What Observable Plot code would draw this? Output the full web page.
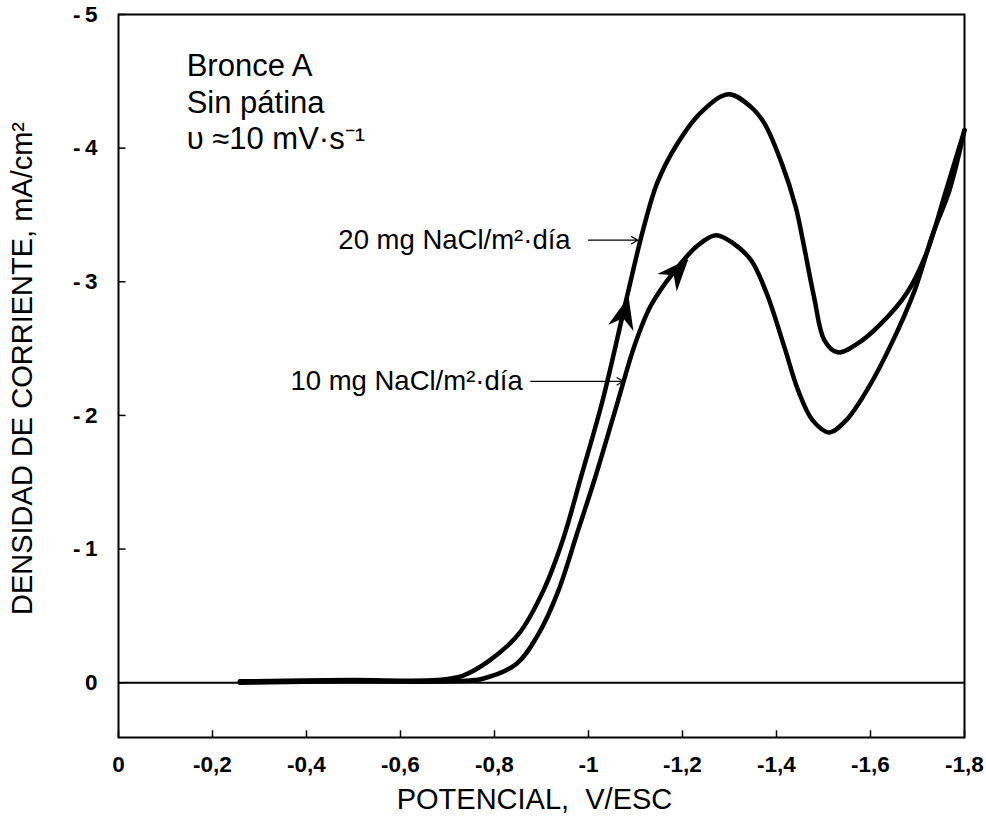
<!DOCTYPE html>
<html>
<head>
<meta charset="utf-8">
<script src="https://cdn.jsdelivr.net/npm/d3@7"></script>
<script src="https://cdn.jsdelivr.net/npm/@observablehq/plot@0.6"></script>
<style>
  html, body { margin: 0; padding: 0; background: #fff; }
  #chart svg { display: block; }
</style>
</head>
<body>
<div id="chart"></div>
<script>
// ---- data ----
const xTicks = [0, -0.2, -0.4, -0.6, -0.8, -1, -1.2, -1.4, -1.6, -1.8];
const yTicks = [-5, -4, -3, -2, -1, 0];

const potential20 = [-0.258,-0.492,-0.677,-0.732,-0.789,-0.852,-0.904,-0.945,-0.985,-1.030,-1.080,-1.116,-1.146,-1.187,-1.240,-1.298,-1.346,-1.374,-1.411,-1.441,-1.456,-1.480,-1.502,-1.530,-1.573,-1.623,-1.677,-1.719,-1.759,-1.800];
const current20   = [-0.01,-0.02,-0.02,-0.052,-0.165,-0.367,-0.689,-1.064,-1.551,-2.112,-2.861,-3.386,-3.738,-4.022,-4.270,-4.404,-4.307,-4.187,-3.888,-3.558,-3.311,-2.884,-2.562,-2.472,-2.539,-2.689,-2.914,-3.213,-3.663,-4.135];

const potential10 = [-0.258,-0.492,-0.704,-0.775,-0.847,-0.894,-0.936,-0.976,-1.015,-1.062,-1.098,-1.133,-1.181,-1.233,-1.271,-1.308,-1.346,-1.379,-1.417,-1.446,-1.477,-1.512,-1.548,-1.596,-1.645,-1.694,-1.733,-1.768,-1.800];
const current10   = [0,-0.01,-0.01,-0.03,-0.142,-0.367,-0.689,-1.120,-1.545,-2.100,-2.524,-2.824,-3.071,-3.273,-3.348,-3.288,-3.161,-2.914,-2.509,-2.187,-1.963,-1.873,-1.963,-2.210,-2.539,-2.936,-3.363,-3.685,-4.135];

// direction arrowheads on the curves
const arrowX = [-1.076, -1.187];
const arrowY = [-2.757, -3.071];
const arrowAngle = [14, 42];

// series labels and leader lines
const seriesLabels = ["20 mg NaCl/m²·día", "10 mg NaCl/m²·día"];
const labelX = [-0.962, -0.860];
const labelY = [-3.311, -2.255];
const leaderX1 = [-1.0, -0.877];
const leaderX2 = [-1.105, -1.074];

// annotation block
const noteLines = "Bronce A\nSin pátina\nυ ≈10 mV·s⁻¹";
const noteX = [-0.145];
const noteY = [-4.734];

const xLabel = "POTENCIAL,  V/ESC";
const yLabel = "DENSIDAD DE CORRIENTE, mA/cm²";

// ---- build tables ----
const s20 = potential20.map((x, i) => ({x, y: current20[i]}));
const s10 = potential10.map((x, i) => ({x, y: current10[i]}));
const labels = seriesLabels.map((t, i) => ({t, x: labelX[i], y: labelY[i], x1: leaderX1[i], x2: leaderX2[i]}));

function arrowSymbol(angleDeg) {
  const a = angleDeg * Math.PI / 180, c = Math.cos(a), s = Math.sin(a);
  const pts = [[0, -18], [13, 14], [0, 4], [-13, 14]];
  return {
    draw(ctx) {
      pts.forEach(([px, py], i) => {
        const rx = px * c - py * s, ry = px * s + py * c;
        if (i === 0) ctx.moveTo(rx, ry); else ctx.lineTo(rx, ry);
      });
      ctx.closePath();
    }
  };
}

const fmtX = d => d === 0 ? "0" : "-" + String(Math.abs(d)).replace(".", ",");
const fmtY = d => d === 0 ? "0" : "-\u2009" + Math.abs(d);

const chart = Plot.plot({
  width: 986,
  height: 818,
  marginLeft: 118,
  marginRight: 22,
  marginTop: 14,
  marginBottom: 81,
  x: {domain: [0, -1.8]},
  y: {domain: [0.41, -5]},
  style: {fontFamily: "'Liberation Sans', Arial, sans-serif", background: "#fff", color: "#000"},
  marks: [
    Plot.frame({stroke: "#000", strokeWidth: 2}),
    Plot.ruleY([0], {stroke: "#000", strokeWidth: 2}),
    Plot.ruleX(xTicks, {y1: 0.41, y2: 0.36, stroke: "#000", strokeWidth: 1.5}),
    Plot.ruleY(yTicks, {x1: 0, x2: -0.016, stroke: "#000", strokeWidth: 1.5}),
    Plot.axisX(xTicks, {tickSize: 0, tickPadding: 19, tickFormat: fmtX, fontSize: 22.5, fontWeight: "bold", label: null}),
    Plot.axisY(yTicks, {tickSize: 0, tickPadding: 21, tickFormat: fmtY, fontSize: 22.5, fontWeight: "bold", label: null}),
    Plot.line(s20, {x: "x", y: "y", curve: "catmull-rom", stroke: "#000", strokeWidth: 4.5}),
    Plot.line(s10, {x: "x", y: "y", curve: "catmull-rom", stroke: "#000", strokeWidth: 4.5}),
    Plot.dot([0], {x: arrowX[0], y: arrowY[0], symbol: arrowSymbol(arrowAngle[0]), fill: "#000", stroke: "none"}),
    Plot.dot([0], {x: arrowX[1], y: arrowY[1], symbol: arrowSymbol(arrowAngle[1]), fill: "#000", stroke: "none"}),
    Plot.text(labels, {x: "x", y: "y", text: "t", textAnchor: "end", fontSize: 27.5}),
    Plot.arrow(labels, {x1: "x1", x2: "x2", y1: "y", y2: "y", stroke: "#000", strokeWidth: 1.2, headLength: 9}),
    Plot.text([noteLines], {x: noteX, y: noteY, text: d => d, textAnchor: "start", lineAnchor: "top", fontSize: 31, lineHeight: 1.18}),
    Plot.text([xLabel], {frameAnchor: "bottom", dx: -7, dy: 62, text: d => d, fontSize: 29, lineAnchor: "middle"}),
    Plot.text([yLabel], {frameAnchor: "left", dx: -96, dy: -7.5, rotate: -90, textAnchor: "middle", text: d => d, fontSize: 29, lineAnchor: "middle"})
  ]
});
document.getElementById("chart").appendChild(chart);
</script>
</body>
</html>
